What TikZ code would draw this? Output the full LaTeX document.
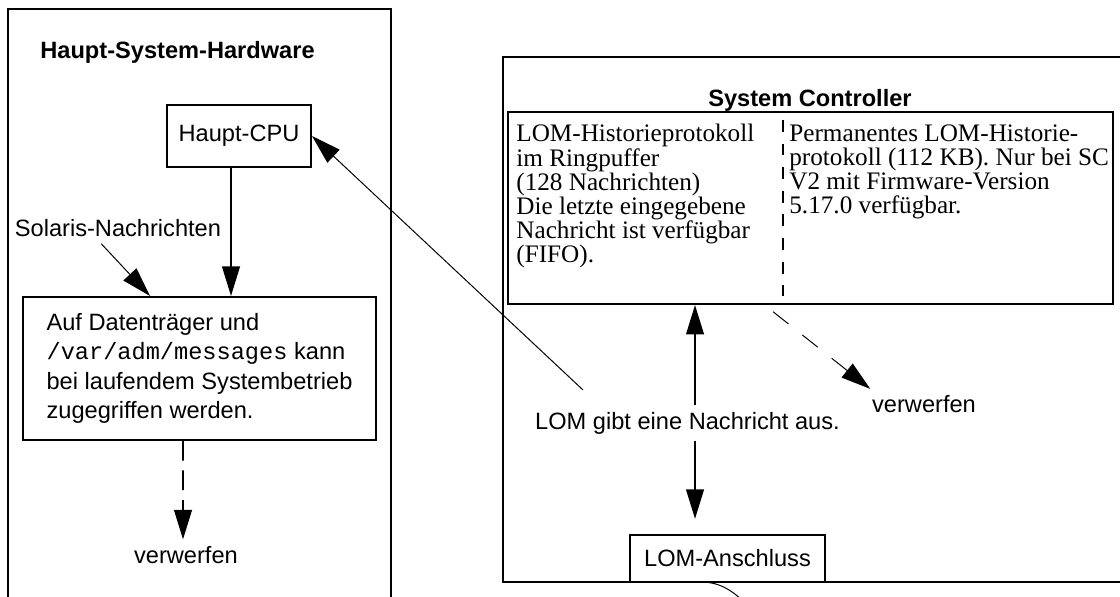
\documentclass[tikz,border=0pt]{standalone}
\usepackage{fontspec}
\setmainfont{Liberation Sans}
\setmonofont{Liberation Mono}
\newfontfamily\timesfont{Liberation Serif}
\usetikzlibrary{arrows.meta}

\begin{document}
\begin{tikzpicture}[
    font=\fontsize{12}{14.9}\selectfont,
    box/.style={draw, line width=1pt},
    title/.style={font=\fontsize{12}{14}\selectfont\bfseries, inner sep=0pt},
    serif/.style={font=\fontsize{12.8}{12.3}\selectfont\timesfont, align=left, inner sep=0pt, anchor=north west},
    head/.style={-{Triangle[length=15pt, width=9pt]}},
    bigarrow/.style={head, line width=1pt},
    thinarrow/.style={head, line width=0.5pt},
]
    \useasboundingbox (0,0) rectangle (20,10.643);
    \clip (0,0) rectangle (20,10.643);

    \begin{scope}
        \draw[line width=1pt] (0.143,-0.5) -- (0.143,10.482) -- (6.982,10.482) -- (6.982,-0.5); % main system
        \node[title, anchor=west] (hwtitle) at (0.714,9.714) {Haupt-System-Hardware}; % Box name

        \node[box, minimum width=2.571cm, minimum height=1.107cm] (cpu) at (4.268,8.214) {Haupt-CPU};
        \node[box, minimum width=6.304cm, minimum height=2.554cm, align=left] (disk) at (3.563,4.063)
            {Auf Datenträger und\\\texttt{/var/adm/messages} kann\\bei laufendem Systembetrieb\\zugegriffen werden.};
        \node (sol) at (2.107,6.571) {Solaris-Nachrichten};
        \node (drop1) at (3.321,0.732) {verwerfen};

        % Messages
        \draw[bigarrow] ([xshift=-0.143cm]cpu.south) -- ([xshift=-0.143cm]cpu.south |- disk.north);
        \draw[thinarrow] ([xshift=-0.3cm]sol.south) -- ([xshift=-0.884cm]disk.north);
        \draw[bigarrow, dash pattern=on 10pt off 5pt] ([xshift=-0.295cm]disk.south) -- ([xshift=-0.053cm]drop1.north);
    \end{scope}

    \begin{scope}[xshift=8.982cm, yshift=0.25cm]
        \draw[line width=1pt] (11.5,0) -- (0,0) -- (0,9.375) -- (11.5,9.375); % system controller
        \node[title] (sctitle) at (5.482,8.607) {System Controller}; % Box name

        % History logs
        \node[box, minimum width=10.804cm, minimum height=3.429cm] (hist) at (5.491,6.679) {};
        \node[serif] (ring) at (0.232,8.179)
            {LOM-Historieprotokoll\\im Ringpuffer\\(128 Nachrichten)\\Die letzte eingegebene\\Nachricht ist verfügbar\\(FIFO).};
        \node[serif] (perm) at (5.107,8.179)
            {Permanentes LOM-Historie-\\protokoll (112 KB). Nur bei SC\\V2 mit Firmware-Version\\5.17.0 verfügbar.};
        \draw[line width=1pt, dash pattern=on 6pt off 6pt] (5,8.25) -- (5,5.107); % divider

        \node (lom) at (3.295,2.839) {LOM gibt eine Nachricht aus.};
        \node[box, minimum width=3.482cm, minimum height=0.839cm] (port) at (4.009,0.42) {LOM-Anschluss};
        \node (drop2) at (7.518,3.17) {verwerfen};
        \coordinate (msg) at (1.429,3.429);

        % Messages
        \draw[thinarrow] (msg) -- (cpu.east);
        \draw[bigarrow] ([xshift=0.134cm]lom.north) -- ([xshift=0.134cm]lom.north |- hist.south);
        \draw[bigarrow] ([xshift=0.134cm]lom.south) -- ([xshift=0.134cm, yshift=0.27cm]lom.south |- port.north);
        \draw[thinarrow, dash pattern=on 10pt off 9pt] ([xshift=-0.669cm, yshift=-0.12cm]hist.south) -- ([xshift=0.09cm]drop2.north west);

        \draw[line width=0.5pt] (3.518,0) .. controls (3.85,0) and (4.05,-0.12) .. (4.3,-0.35); % cable
    \end{scope}

\end{tikzpicture}
\end{document}
